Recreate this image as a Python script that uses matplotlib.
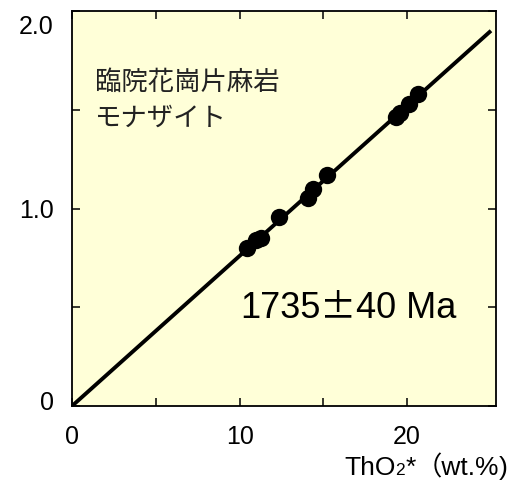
import numpy as np
import matplotlib
matplotlib.use('Agg')
import matplotlib.pyplot as plt
import matplotlib.transforms as mtransforms

plt.rcParams['font.family'] = ['Liberation Sans', 'Noto Sans CJK JP', 'DejaVu Sans']

# monazite ThO2* vs PbO data
tho2 = [10.43, 11.0, 11.25, 12.38, 14.11, 14.37, 15.24, 19.35, 19.6, 20.08, 20.67]
pbo = [0.800, 0.838, 0.852, 0.957, 1.054, 1.100, 1.169, 1.465, 1.482, 1.528, 1.582]

# isochron line
line_x = [0, 25]
line_y = [0, 1.9]

xticks_major = [0, 10, 20]
xticks_minor = [5, 15]
yticks_major = [0, 1.0, 2.0]
yticks_minor = [0.5, 1.5]
ytick_labels = ['0', '1.0', '2.0']

LAT = ['Liberation Sans']
CJK = ['Noto Sans CJK JP']


def draw_runs(fig, x, y, runs, ha='left'):
    # put pieces of text side by side on one baseline, x/y in figure pixels
    renderer = fig.canvas.get_renderer()
    texts = []
    for s, size, fam in runs:
        t = fig.text(0, 0, s, fontsize=size, family=fam, va='baseline', ha='left',
                     transform=mtransforms.IdentityTransform())
        texts.append(t)
    widths = [t.get_window_extent(renderer).width for t in texts]
    pos = x - sum(widths) if ha == 'right' else x
    for t, w in zip(texts, widths):
        t.set_position((pos, y))
        pos += w


fig = plt.figure(figsize=(5.16, 4.82), dpi=100)
ax = fig.add_axes([72/516, 76/482, 424/516, 395/482])
ax.set_facecolor('#ffffd8')

ax.plot(line_x, line_y, color='black', lw=2.8, solid_capstyle='butt')
ax.plot(tho2, pbo, 'o', color='black', markersize=12.5, markeredgewidth=0)

ax.set_xlim(0, 25.3)
ax.set_ylim(0, 2.0)

ax.set_xticks(xticks_major)
ax.set_xticks(xticks_minor, minor=True)
ax.set_yticks(yticks_major)
ax.set_yticks(yticks_minor, minor=True)
ax.set_yticklabels(ytick_labels)

ax.tick_params(which='both', direction='in', top=True, right=True,
               length=6, width=1.1, labelsize=18)
ax.tick_params(axis='x', pad=14)
ax.tick_params(axis='y', pad=13)
for s in ax.spines.values():
    s.set_linewidth(1.3)

# nudge the end labels like the original
lbl = ax.get_yticklabels()[-1]
lbl.set_transform(lbl.get_transform() + mtransforms.ScaledTranslation(0, -13/100, fig.dpi_scale_trans))
lbl0 = ax.get_yticklabels()[0]
lbl0.set_transform(lbl0.get_transform() + mtransforms.ScaledTranslation(0, 6/100, fig.dpi_scale_trans))

ax.text(0.054, 0.82, '臨院花崗片麻岩', transform=ax.transAxes, fontsize=19,
        family=CJK, color='#222222', va='center', ha='left')
ax.text(0.054, 0.728, 'モナザイト', transform=ax.transAxes, fontsize=19,
        family=CJK, color='#222222', va='center', ha='left')

fig.canvas.draw()
draw_runs(fig, 240, 164, [('1735', 26, LAT), ('±', 26, CJK), ('40 Ma', 26, LAT)])
draw_runs(fig, 508, 7, [('ThO', 19, LAT), ('2', 12.5, LAT), ('*', 19, LAT),
                        ('（wt.%', 19, LAT + CJK), (')', 19, LAT)], ha='right')

fig.savefig('out.png', dpi=100)
